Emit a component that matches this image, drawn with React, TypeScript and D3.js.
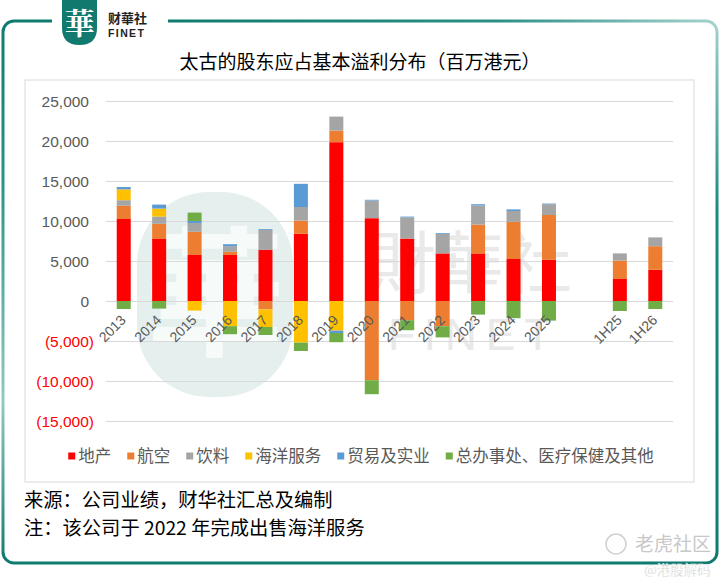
import React, { useEffect, useRef } from 'react';
import * as d3 from 'd3';

// 类别（空白一格用于分隔全年与半年）
const categories = ['2013', '2014', '2015', '2016', '2017', '2018', '2019', '2020', '2021', '2022', '2023', '2024', '2025', '', '1H25', '1H26'];

// 各业务股东应占基本溢利（百万港元）
const property = [10250, 7750, 5750, 5750, 6400, 8400, 19850, 10350, 7800, 5950, 5950, 5250, 5150, 0, 2750, 3900];
const aviation = [1650, 1900, 2900, 400, -1050, 1650, 1450, -9900, -2400, -3150, 3600, 4650, 5600, 0, 2300, 2950];
const beverages = [700, 900, 1100, 700, 2500, 1700, 1750, 2200, 2650, 2450, 2400, 1350, 1350, 0, 900, 1100];
const marine = [1350, 1000, -1200, -3150, -2200, -5200, -3700, 0, 0, 0, 0, 0, 0, 0, 0, 0];
const trading = [300, 500, 250, 250, 100, 2900, -300, 100, 100, 100, 150, 200, 80, 0, 0, 0];
const hqOthers = [-1000, -950, 1050, -1000, -1000, -1050, -1150, -1750, -1250, -1400, -1700, -2150, -2450, 0, -1250, -1000];

const seriesNames = ['地产', '航空', '饮料', '海洋服务', '贸易及实业', '总办事处、医疗保健及其他'];
const seriesValues = [property, aviation, beverages, marine, trading, hqOthers];
const seriesColors = ['#FF0000', '#ED7D31', '#A5A5A5', '#FFC000', '#5B9BD5', '#70AD47'];

const yTicks = [-15000, -10000, -5000, 0, 5000, 10000, 15000, 20000, 25000];

const CJK = '"Noto Sans CJK SC", "Noto Sans", sans-serif';
const NUM = '"Liberation Sans", Arial, sans-serif';

export default () => {
  const svgRef = useRef<SVGSVGElement>(null);

  useEffect(() => {
    if (!svgRef.current) {
      return;
    }
    const svg = d3.select(svgRef.current);
    svg.selectAll('*').remove();

    const defs = svg.append('defs');
    const gTop = defs.append('linearGradient').attr('id', 'gTop')
      .attr('gradientUnits', 'userSpaceOnUse').attr('x1', 160).attr('y1', 0).attr('x2', 718).attr('y2', 0);
    gTop.append('stop').attr('offset', 0).attr('stop-color', '#0f7a70');
    gTop.append('stop').attr('offset', 0.6).attr('stop-color', '#2b8f86');
    gTop.append('stop').attr('offset', 1).attr('stop-color', '#a7d3cf');
    const gRight = defs.append('linearGradient').attr('id', 'gRight')
      .attr('gradientUnits', 'userSpaceOnUse').attr('x1', 0).attr('y1', 20).attr('x2', 0).attr('y2', 565);
    gRight.append('stop').attr('offset', 0).attr('stop-color', '#a7d3cf');
    gRight.append('stop').attr('offset', 0.35).attr('stop-color', '#1a8a80');
    gRight.append('stop').attr('offset', 1).attr('stop-color', '#0f7a70');
    const gLeft = defs.append('linearGradient').attr('id', 'gLeft')
      .attr('gradientUnits', 'userSpaceOnUse').attr('x1', 0).attr('y1', 20).attr('x2', 0).attr('y2', 565);
    gLeft.append('stop').attr('offset', 0).attr('stop-color', '#0f7a70');
    gLeft.append('stop').attr('offset', 0.3).attr('stop-color', '#2a938a');
    gLeft.append('stop').attr('offset', 0.7).attr('stop-color', '#93c9c4');
    gLeft.append('stop').attr('offset', 1).attr('stop-color', '#0f7a70');

    svg.append('rect').attr('width', 721).attr('height', 587).attr('fill', '#fff');

    // 外框
    const r = 11;
    const frame = svg.append('g').attr('fill', 'none').attr('stroke-width', 3);
    frame.append('path').attr('d', `M52,21 H${3 + r} A${r},${r} 0 0 0 3,${21 + r} V${563 - r}`).attr('stroke', 'url(#gLeft)');
    frame.append('path').attr('d', `M168,21 H${717 - r} A${r},${r} 0 0 1 717,${21 + r}`).attr('stroke', 'url(#gTop)');
    frame.append('path').attr('d', `M717,${21 + r} V${563 - r}`).attr('stroke', 'url(#gRight)');
    frame.append('path').attr('d', `M3,${563 - r} A${r},${r} 0 0 0 ${3 + r},563 H${717 - r} A${r},${r} 0 0 0 717,${563 - r}`).attr('stroke', '#0f7a70');

    // 标志
    svg.append('path')
      .attr('d', 'M62,0 H97 V28 Q97,45 79.5,45 Q62,45 62,28 Z')
      .attr('fill', '#12796e');
    svg.append('text').attr('x', 79.5).attr('y', 34).attr('text-anchor', 'middle')
      .style('font-family', '"Noto Serif CJK SC", "Noto Sans CJK TC", serif').style('font-size', '30px').style('font-weight', 700)
      .attr('fill', '#fff').text('華');
    svg.append('text').attr('x', 108).attr('y', 23)
      .style('font-family', '"Noto Sans CJK TC", sans-serif').style('font-size', '13px').style('font-weight', 700)
      .attr('fill', '#222').text('财華社');
    svg.append('text').attr('x', 108).attr('y', 37)
      .style('font-family', NUM).style('font-size', '10.5px').style('font-weight', 700).style('letter-spacing', '1.4px')
      .attr('fill', '#222').text('FINET');

    // 标题
    svg.append('text').attr('x', 360).attr('y', 69).attr('text-anchor', 'middle')
      .style('font-family', CJK).style('font-size', '19px').attr('fill', '#000')
      .text('太古的股东应占基本溢利分布（百万港元）');

    // 图表区边框
    svg.append('rect').attr('x', 25).attr('y', 80).attr('width', 669).attr('height', 402)
      .attr('fill', '#fff').attr('stroke', '#d9d9d9').attr('stroke-width', 1);

    // 水印
    const wm = svg.append('g');
    wm.append('rect').attr('x', 137).attr('y', 192).attr('width', 156).attr('height', 205).attr('rx', 72)
      .attr('fill', '#e4efee');
    wm.append('text').attr('x', 215).attr('y', 345).attr('text-anchor', 'middle')
      .style('font-family', CJK).style('font-size', '140px').style('font-weight', 700)
      .attr('fill', '#fff').attr('opacity', 0.7).text('華');
    wm.append('text').attr('x', 470).attr('y', 288).attr('text-anchor', 'middle')
      .style('font-family', '"Noto Sans CJK TC", sans-serif').style('font-size', '68px')
      .attr('fill', '#e9e9e9').text('財華社');
    wm.append('text').attr('x', 474).attr('y', 350).attr('text-anchor', 'middle')
      .style('font-family', NUM).style('font-size', '44px').style('letter-spacing', '9px')
      .attr('fill', '#e9e9e9').text('FINET');

    const x = d3.scaleBand<string>()
      .domain(categories.map((_, i) => String(i)))
      .range([106, 673])
      .paddingInner(0.605)
      .paddingOuter(0.3025);

    const y = d3.scaleLinear().domain([-15000, 25000]).range([421, 101]);

    // 网格线
    svg.append('g').selectAll('line').data(yTicks).enter().append('line')
      .attr('x1', 106).attr('x2', 673)
      .attr('y1', (d) => Math.round(y(d)) + 0.5).attr('y2', (d) => Math.round(y(d)) + 0.5)
      .attr('stroke', '#d9d9d9').attr('stroke-width', 1);

    // Y 轴标签
    const fmt = d3.format(',');
    svg.append('g').selectAll('text').data(yTicks).enter().append('text')
      .attr('x', (d) => (d < 0 ? 94 : 89))
      .attr('y', (d) => y(d))
      .attr('dy', '0.36em')
      .attr('text-anchor', 'end')
      .style('font-family', NUM).style('font-size', '15.5px')
      .attr('fill', (d) => (d < 0 ? '#ff0000' : '#595959'))
      .text((d) => (d < 0 ? `(${fmt(-d)})` : fmt(d)));

    // 堆叠数据
    const keys = seriesNames.map((_, i) => String(i));
    const rows = categories.map((c, ci) => {
      const row: any = { cat: String(ci) };
      seriesValues.forEach((vals, si) => { row[String(si)] = vals[ci]; });
      return row;
    });
    const stacked = d3.stack().keys(keys).offset(d3.stackOffsetDiverging)(rows);

    const bars = svg.append('g');
    stacked.forEach((layer, si) => {
      bars.append('g').attr('fill', seriesColors[si])
        .selectAll('rect')
        .data(layer.filter((d) => Math.abs(d[1] - d[0]) > 0))
        .enter().append('rect')
        .attr('x', (d: any) => x(d.data.cat) as number)
        .attr('width', x.bandwidth())
        .attr('y', (d) => y(Math.max(d[0], d[1])))
        .attr('height', (d) => Math.abs(y(d[0]) - y(d[1])));
    });

    // X 轴标签
    svg.append('g').selectAll('text').data(categories.map((c, i) => ({ c, i }))).enter().append('text')
      .attr('transform', (d) => `translate(${(x(String(d.i)) as number) + x.bandwidth() / 2 + 3},321) rotate(-45)`)
      .attr('text-anchor', 'end')
      .style('font-family', NUM).style('font-size', '14px')
      .attr('fill', '#595959')
      .text((d) => d.c);

    // 图例
    const legend = svg.append('g');
    let lx = 0;
    seriesNames.forEach((name, i) => {
      const item = legend.append('g').attr('transform', `translate(${lx},0)`);
      item.append('rect').attr('x', 0).attr('y', 452.5).attr('width', 7).attr('height', 7).attr('fill', seriesColors[i]);
      const t = item.append('text').attr('x', 10).attr('y', 462)
        .style('font-family', CJK).style('font-size', '16.5px').attr('fill', '#595959').text(name);
      const w = (t.node() as SVGTextElement).getComputedTextLength();
      lx += 10 + w + 16;
    });
    const totalW = lx - 16;
    legend.attr('transform', `translate(${361 - totalW / 2},0)`);

    // 注释
    svg.append('text').attr('x', 24).attr('y', 507)
      .style('font-family', CJK).style('font-size', '19.3px').attr('fill', '#000')
      .text('来源：公司业绩，财华社汇总及编制');
    svg.append('text').attr('x', 24).attr('y', 535)
      .style('font-family', CJK).style('font-size', '19.3px').attr('fill', '#000')
      .text('注：该公司于 2022 年完成出售海洋服务');

    // 平台水印
    svg.append('circle').attr('cx', 616).attr('cy', 544).attr('r', 10)
      .attr('fill', 'none').attr('stroke', '#d0d0d0').attr('stroke-width', 1.5);
    svg.append('text').attr('x', 635).attr('y', 551)
      .style('font-family', CJK).style('font-size', '19px').attr('fill', '#c8c8c8')
      .text('老虎社区');
    svg.append('text').attr('x', 644).attr('y', 575)
      .style('font-family', CJK).style('font-size', '13.5px').attr('fill', '#c4c4c4')
      .attr('stroke', '#fff').attr('stroke-width', 0.4)
      .text('@港股解码');
  }, []);

  return (
    <svg ref={svgRef} width={721} height={587} style={{ position: 'absolute', left: 0, top: 0 }} />
  );
};
